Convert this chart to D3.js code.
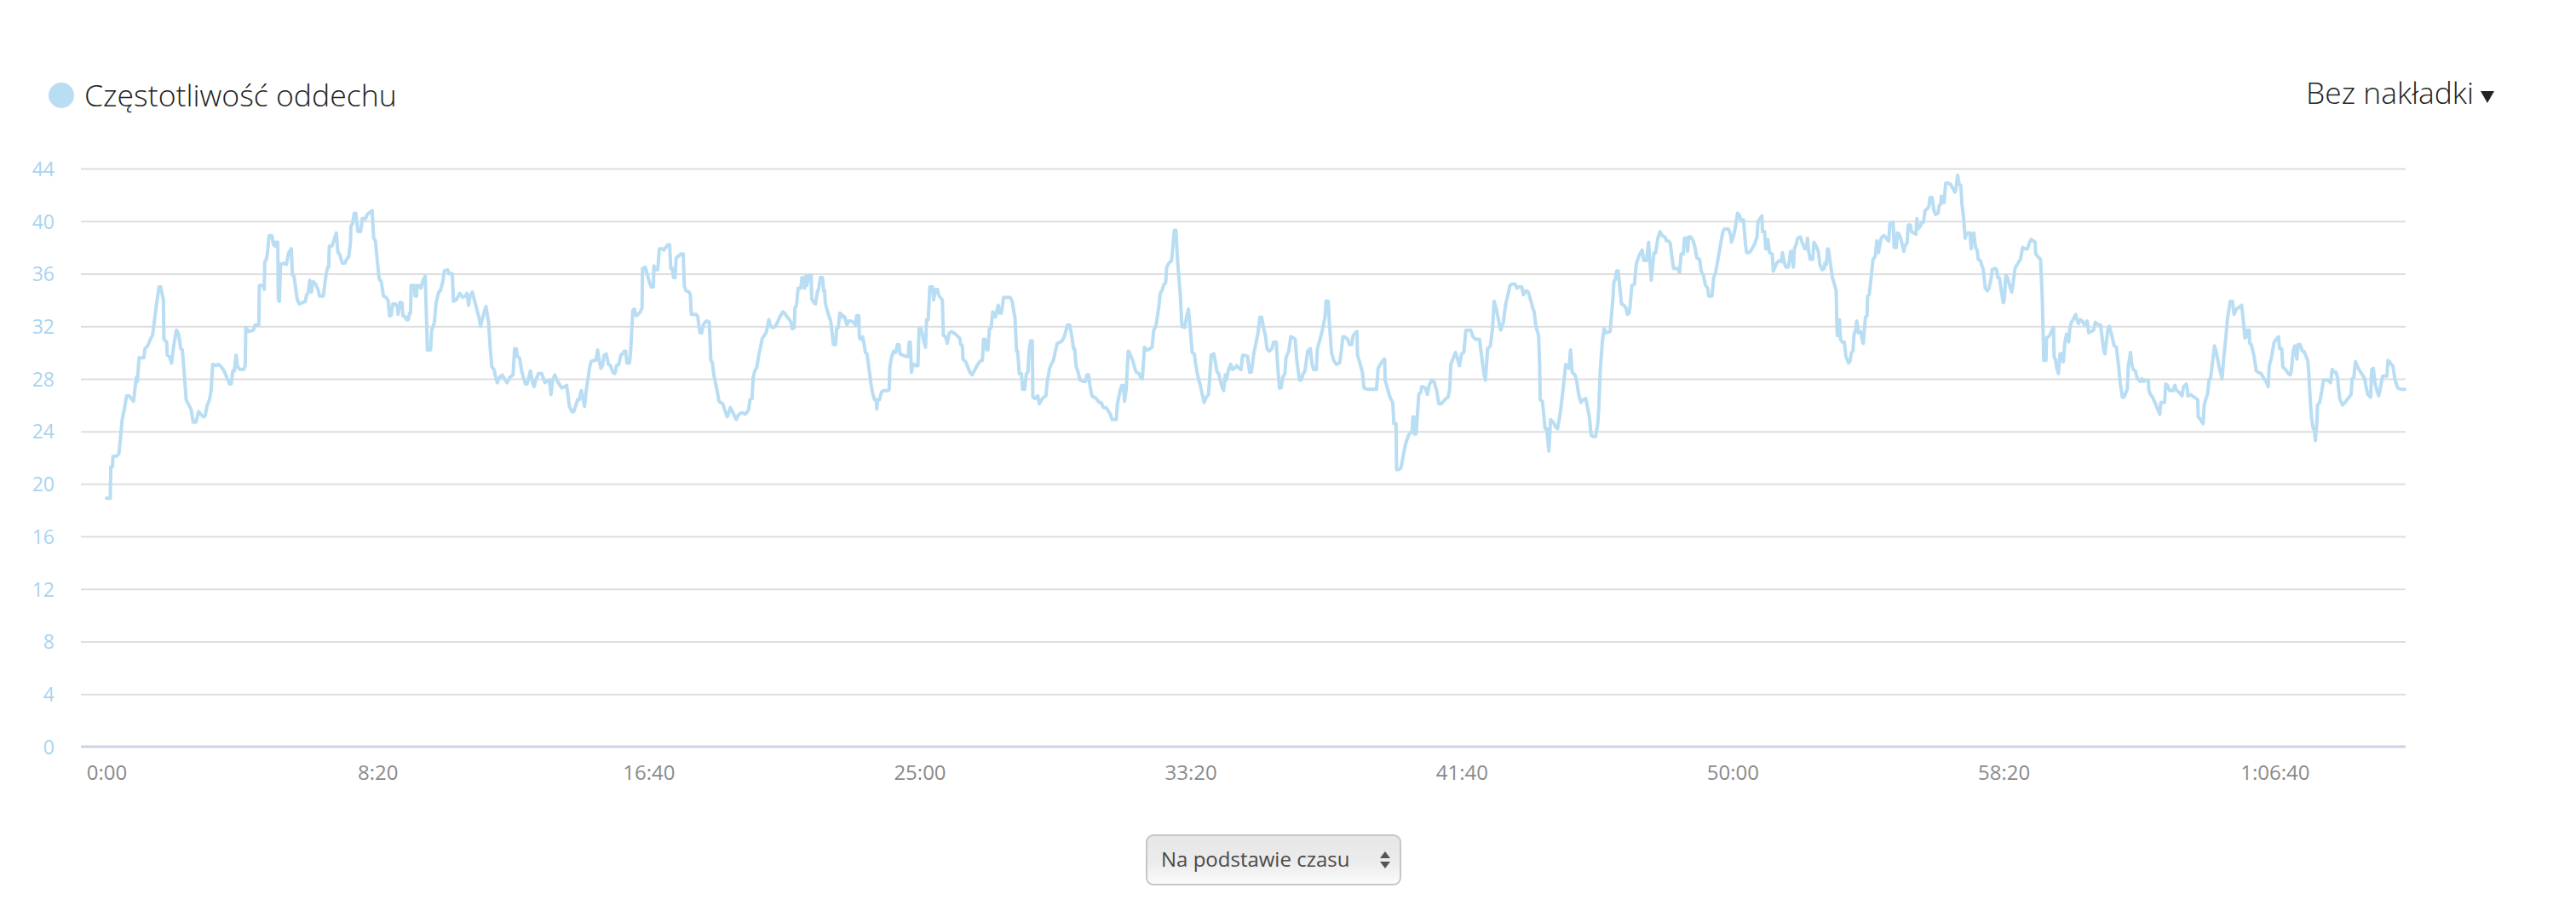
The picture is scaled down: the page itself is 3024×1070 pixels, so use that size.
<!DOCTYPE html>
<html><head><meta charset="utf-8">
<script src="https://cdn.jsdelivr.net/npm/d3@7"></script>
<style>
html,body{margin:0;padding:0;background:#fff;}
svg{display:block;font-family:"Open Sans",sans-serif;}
</style></head><body>
<svg id="chart" width="3024" height="1070"></svg>
<script>
const seriesName = "Częstotliwość oddechu";
const overlayLabel = "Bez nakładki";
const selectLabel = "Na podstawie czasu";
const yTicks = [0, 4, 8, 12, 16, 20, 24, 28, 32, 36, 40, 44];
const xTicks = [0, 500, 1000, 1500, 2000, 2500, 3000, 3500, 4000];
const timeDomain = [0, 4240];

// [seconds, breaths per minute]
const part1 = [[0,18.9],[7,18.9],[8,21.3],[11,21.3],[12,22.1],[18,22.1],[23,22.3],[29,24.9],[33,25.7],[37,26.7],[42,26.7],[50,26.3],[55,28.1],[57,27.8],[60,29.6],[69,29.6],[71,30.3],[76,30.5],[82,31.1],[85,31.3],[92,33.6],[97,35.0],[100,35.0],[105,34.0],[106,31.0],[111,30.8],[112,29.8],[116,29.7],[120,29.2],[124,30.5],[129,31.7],[133,31.4],[137,30.3],[140,30.2],[144,28.1],[147,26.4],[152,26.0],[156,25.7],[160,24.7],[165,24.7],[170,25.5],[174,25.3],[179,25.1],[182,25.2],[186,26.0],[190,26.4],[193,27.1],[196,29.1],[202,29.0],[207,29.1],[212,28.9],[217,28.6],[223,28.0],[227,27.6],[230,27.6],[233,28.6],[236,28.6],[239,29.8],[242,28.9],[247,28.7],[253,28.7],[256,29.0],[257,31.9],[262,31.6],[271,31.7],[274,32.1],[281,32.1],[282,35.1],[290,35.1],[291,34.8],[292,36.9],[295,37.1],[297,37.6],[300,38.9],[305,38.9],[308,38.2],[311,38.1],[312,38.4],[316,38.4],[317,34.0],[319,33.9],[321,36.7],[327,36.8],[332,36.7],[336,37.6],[341,37.9],[343,35.9],[346,35.8],[352,34.0],[356,33.7],[362,33.8],[367,33.9],[369,34.4],[372,34.5],[375,35.5],[378,34.6],[381,35.4],[386,35.2],[391,34.7],[393,34.3],[400,34.3],[405,35.9],[408,36.5],[410,36.5],[411,38.1],[416,38.1],[424,39.1],[427,37.6],[430,37.5],[435,36.8],[440,36.8],[443,37.1],[447,37.3],[450,38.3],[451,39.6],[454,39.8],[457,40.6],[460,40.6],[464,39.2],[469,39.2],[472,40.2],[478,40.2],[481,40.5],[490,40.8],[493,38.7],[496,38.5],[503,35.6],[507,35.4],[511,34.3],[516,34.2],[520,33.9],[522,32.8],[525,32.8],[528,33.7],[533,33.7],[537,33.4],[538,32.9],[541,33.8],[545,33.8],[547,32.8],[552,32.7],[553,32.5],[557,32.5],[559,33.0],[561,33.0],[562,35.1],[568,35.1],[569,34.3],[572,34.3],[573,35.1],[577,35.1],[580,34.9],[584,35.5],[588,35.8],[591,31.7],[592,30.2],[598,30.2],[600,31.7],[605,32.3],[608,33.8],[613,34.6],[616,34.7],[621,35.5],[623,36.2],[629,36.3],[632,36.0],[638,36.0],[640,33.9],[645,34.0]];
const part2 = [[652,34.5],[657,34.2],[662,34.3],[665,34.5],[668,33.6],[671,34.3],[675,34.6],[678,34.1],[683,33.3],[687,32.7],[690,32.0],[693,32.5],[697,33.1],[700,33.5],[705,32.3],[708,30.3],[711,28.9],[715,28.7],[718,28.1],[721,27.7],[725,28.1],[730,28.3],[734,28.0],[739,27.7],[744,28.1],[750,28.3],[753,30.3],[756,30.3],[758,29.7],[762,29.6],[766,28.6],[769,28.1],[773,27.6],[776,27.6],[779,28.1],[782,28.6],[786,27.7],[789,27.4],[792,27.9],[797,28.4],[803,28.4],[807,27.9],[809,27.7],[812,27.8],[817,27.9],[820,26.8],[823,27.9],[827,28.3],[831,27.9],[835,27.6],[840,27.3],[845,27.4],[849,27.5],[851,26.9],[854,25.9],[859,25.5],[862,25.5],[866,26.0],[869,26.4],[872,26.4],[876,27.1],[879,26.5],[882,25.9],[885,27.1],[888,27.9],[891,28.8],[894,29.3],[899,29.4],[903,29.4],[906,30.2],[909,29.4],[912,28.8],[915,29.0],[918,29.8],[922,29.9],[926,29.1],[930,29.0],[934,28.5],[938,28.4],[941,29.0],[945,29.1],[949,29.8],[952,29.9],[955,30.1],[958,30.1],[960,29.2],[965,29.2],[967,30.1],[971,33.2],[974,33.3],[977,32.8],[981,32.9],[985,33.1],[988,33.4],[989,36.4],[994,36.5],[998,35.9],[1002,35.3],[1005,35.0],[1009,35.0],[1010,36.6],[1014,36.3],[1017,36.3],[1020,37.9],[1026,37.9],[1028,37.8],[1032,38.0],[1035,38.2],[1039,38.2],[1041,36.4],[1044,36.4],[1046,35.7],[1049,35.7],[1051,37.2],[1054,37.3],[1060,37.5],[1064,37.5],[1066,35.1],[1069,34.7],[1075,34.6],[1077,34.4],[1079,32.9],[1084,32.9],[1088,32.9],[1091,32.7],[1093,32.0],[1095,31.5],[1098,31.5],[1101,32.1],[1104,32.3],[1108,32.4],[1112,32.3],[1113,31.4],[1115,29.4],[1118,29.2],[1120,28.4],[1124,27.6],[1127,27.0],[1130,26.3],[1133,26.2],[1137,26.1],[1140,25.7],[1145,25.1],[1148,25.4],[1151,25.8],[1155,25.5],[1158,25.2],[1162,24.9],[1165,25.2],[1170,25.4],[1174,25.4],[1178,25.3],[1181,25.4],[1185,25.7],[1187,26.4],[1191,26.5],[1193,28.1],[1196,28.6],[1200,28.9],[1203,29.7],[1206,30.3],[1210,31.1],[1217,31.5],[1222,32.5],[1225,32.0],[1230,31.9],[1234,32.0],[1238,32.3],[1242,32.7],[1248,33.1],[1251,33.0],[1256,32.7],[1260,32.5],[1263,32.3],[1265,31.8],[1269,31.9],[1270,33.4],[1273,33.6],[1276,34.9],[1281,34.9],[1283,35.7],[1286,35.6],[1288,34.9],[1290,35.8],[1292,35.1],[1296,35.9],[1300,35.9],[1301,34.1],[1305,33.8],[1308,33.7],[1311,34.5],[1314,34.9],[1317,35.7],[1321,35.7],[1323,34.7],[1325,34.7],[1326,33.8],[1331,33.0],[1336,32.4],[1339,31.4],[1341,30.6],[1345,30.6],[1347,31.8],[1350,31.9],[1353,33.0],[1356,32.9],[1358,32.7]];
const part3 = [[1359,32.8],[1362,32.7],[1366,32.1],[1369,32.4],[1373,32.4],[1378,32.3],[1382,32.1],[1384,32.8],[1388,32.8],[1389,31.1],[1392,31.0],[1395,31.2],[1397,30.8],[1400,30.0],[1403,29.9],[1408,28.4],[1411,27.4],[1414,26.8],[1417,26.4],[1420,26.4],[1421,25.7],[1423,26.4],[1426,26.4],[1430,27.0],[1434,27.1],[1438,27.1],[1442,27.1],[1444,27.2],[1445,28.8],[1448,29.6],[1452,30.1],[1456,30.0],[1459,30.6],[1462,30.6],[1464,29.9],[1469,29.8],[1475,29.7],[1479,29.7],[1481,30.8],[1483,30.8],[1485,28.5],[1488,29.1],[1491,29.1],[1493,29.0],[1497,29.0],[1499,31.8],[1503,31.8],[1507,31.0],[1511,30.4],[1513,32.5],[1516,32.5],[1519,35.0],[1524,35.0],[1526,34.0],[1529,34.8],[1533,34.8],[1535,34.4],[1538,34.2],[1542,34.0],[1544,31.3],[1548,31.2],[1551,30.7],[1555,31.5],[1559,31.6],[1566,31.4],[1569,31.3],[1574,31.1],[1576,30.6],[1579,30.5],[1580,29.5],[1585,29.3],[1588,29.0],[1594,28.4],[1597,28.3],[1601,28.6],[1606,29.0],[1611,29.3],[1614,29.4],[1616,29.4],[1618,31.0],[1621,31.0],[1624,30.2],[1626,30.2],[1629,31.8],[1632,31.9],[1635,33.1],[1638,33.0],[1640,32.7],[1642,33.0],[1645,33.6],[1648,33.0],[1651,33.0],[1655,34.2],[1660,34.2],[1667,34.2],[1671,33.9],[1674,33.1],[1676,32.7],[1679,30.1],[1681,30.1],[1684,28.4],[1688,28.4],[1690,27.2],[1694,27.2],[1697,28.4],[1700,28.5],[1702,30.1],[1705,30.9],[1708,30.9],[1709,26.6],[1713,26.5],[1718,26.7],[1721,26.1],[1725,26.4],[1729,26.6],[1733,26.7],[1736,27.9],[1740,28.8],[1743,29.1],[1747,29.4],[1750,30.0],[1754,30.7],[1760,30.8],[1763,30.9],[1767,31.2],[1771,31.8],[1773,32.1],[1777,32.1],[1781,31.2],[1784,30.3],[1786,30.3],[1789,28.9],[1792,28.6],[1796,27.9],[1802,27.8],[1806,27.8],[1809,28.3],[1812,28.3],[1815,27.3],[1818,26.7],[1822,26.6],[1826,26.5],[1831,26.2],[1835,26.2],[1838,25.9],[1840,25.8],[1844,25.8],[1849,25.5],[1852,25.3],[1855,24.9],[1860,24.9],[1863,24.9],[1865,26.1],[1870,27.1],[1873,27.5],[1876,27.5],[1878,26.3],[1881,27.1],[1885,30.1],[1886,30.1],[1889,29.8],[1894,29.3],[1897,28.8],[1900,28.5],[1905,28.4],[1908,28.1],[1911,28.0],[1915,30.4],[1918,30.2],[1921,30.2],[1925,30.3],[1929,30.4],[1932,31.7],[1936,32.0],[1939,32.8],[1942,33.7],[1944,34.5],[1947,34.7],[1951,35.2],[1954,35.3],[1956,36.5],[1960,36.8],[1965,37.0],[1967,37.9],[1970,39.3],[1973,39.3],[1976,37.0],[1978,35.9],[1981,34.4],[1984,32.0],[1989,31.9],[1993,32.8],[1996,33.3],[1999,32.0],[2003,30.0],[2007,29.9],[2009,29.2],[2012,28.5],[2015,27.9],[2018,27.5],[2020,27.1],[2025,26.2],[2029,26.6],[2033,26.8],[2035,27.9],[2038,29.8],[2043,29.9],[2046,29.2],[2049,28.5],[2052,28.4],[2054,28.0],[2058,27.4],[2061,27.1],[2064,28.3]];
const part4 = [[2066,27.9],[2070,28.7],[2074,29.1],[2077,28.7],[2081,28.8],[2085,29.0],[2089,28.8],[2093,28.7],[2096,29.8],[2099,29.8],[2105,29.7],[2109,28.5],[2112,28.5],[2117,30.0],[2121,30.8],[2124,31.4],[2128,32.7],[2131,32.7],[2135,31.8],[2138,31.3],[2141,30.3],[2145,30.1],[2150,30.3],[2153,30.8],[2158,30.8],[2161,28.8],[2164,27.3],[2167,27.3],[2170,28.1],[2174,28.4],[2176,29.6],[2181,30.1],[2185,31.2],[2190,31.1],[2193,31.0],[2196,29.4],[2201,27.9],[2204,27.9],[2208,28.4],[2211,28.6],[2216,30.1],[2221,30.3],[2224,29.1],[2227,28.7],[2232,28.7],[2234,30.3],[2238,30.9],[2242,31.5],[2248,32.7],[2250,33.9],[2254,33.9],[2256,32.3],[2260,30.0],[2264,29.4],[2269,29.1],[2275,29.2],[2278,30.1],[2281,31.2],[2284,31.2],[2290,31.0],[2293,30.6],[2297,30.6],[2300,31.3],[2304,31.5],[2307,31.6],[2308,29.8],[2313,29.1],[2317,28.5],[2320,27.3],[2326,27.2],[2335,27.2],[2343,27.2],[2346,28.8],[2350,29.1],[2355,29.4],[2358,29.5],[2359,27.9],[2363,27.3],[2367,26.7],[2370,26.4],[2373,26.2],[2375,24.6],[2379,24.6],[2380,21.1],[2384,21.1],[2388,21.2],[2393,22.3],[2397,23.1],[2402,23.7],[2406,23.9],[2409,24.1],[2410,25.1],[2412,25.1],[2413,23.8],[2416,23.8],[2418,25.0],[2421,26.8],[2425,27.0],[2426,27.4],[2429,27.4],[2433,27.3],[2437,26.8],[2440,27.5],[2445,27.9],[2449,27.8],[2454,27.1],[2458,26.1],[2462,26.1],[2467,26.3],[2471,26.5],[2475,26.6],[2478,27.2],[2480,29.1],[2483,29.4],[2489,30.0],[2492,29.6],[2496,29.0],[2500,29.9],[2504,30.0],[2508,31.7],[2513,31.7],[2517,31.7],[2521,31.2],[2526,31.0],[2533,31.0],[2537,29.7],[2541,28.4],[2544,27.9],[2548,30.3],[2553,30.5],[2557,31.8],[2560,33.9],[2564,33.3],[2568,32.5],[2572,31.7],[2577,32.3],[2581,33.6],[2586,34.5],[2589,35.1],[2593,35.2],[2599,35.2],[2602,34.9],[2606,35.0],[2611,35.0],[2614,34.4],[2619,34.7],[2623,34.6],[2628,33.9],[2631,33.4],[2634,33.1],[2637,32.0],[2642,31.3],[2644,29.0],[2645,26.4],[2649,26.3],[2652,25.1],[2654,24.2],[2657,24.2],[2661,22.5],[2664,24.9],[2669,24.7],[2674,24.3],[2677,24.2],[2680,24.9],[2683,25.7],[2688,27.5],[2692,29.1],[2695,28.9],[2698,28.8],[2701,30.2],[2704,28.5],[2709,28.3],[2712,27.9],[2716,26.8],[2720,26.2],[2724,26.4],[2729,26.5],[2732,25.9],[2736,25.0],[2739,23.7],[2743,23.6],[2747,23.6],[2751,24.5],[2753,25.7],[2756,28.8],[2760,31.0],[2763,31.8],[2766,31.5]];
const part5 = [[2774,31.6],[2777,33.1],[2779,34.0],[2781,35.4],[2784,35.6],[2786,36.2],[2789,36.2],[2791,35.3],[2795,33.7],[2799,33.6],[2803,33.4],[2806,32.9],[2809,33.0],[2811,33.6],[2814,35.1],[2819,35.2],[2822,36.7],[2825,37.1],[2829,37.5],[2833,37.8],[2836,37.0],[2841,37.0],[2845,38.4],[2847,37.1],[2850,35.5],[2852,36.4],[2855,37.6],[2858,37.6],[2862,38.7],[2866,39.2],[2870,38.9],[2875,38.8],[2878,38.5],[2882,38.5],[2885,38.3],[2888,37.3],[2891,36.4],[2895,36.4],[2899,36.4],[2902,36.1],[2905,37.5],[2909,37.5],[2911,38.7],[2915,38.7],[2917,37.7],[2919,38.8],[2923,38.8],[2927,38.5],[2930,38.1],[2934,37.2],[2939,37.1],[2942,36.2],[2946,35.9],[2950,35.1],[2954,34.9],[2956,34.3],[2962,34.3],[2965,35.7],[2968,36.0],[2973,37.1],[2978,38.3],[2982,39.2],[2985,39.4],[2992,39.4],[2996,39.0],[2998,38.4],[3002,38.9],[3005,39.5],[3009,40.6],[3012,40.5],[3016,40.0],[3020,40.1],[3024,38.1],[3026,37.6],[3030,37.6],[3033,37.7],[3037,38.0],[3041,38.3],[3045,38.8],[3047,40.0],[3051,40.2],[3054,40.4],[3055,39.2],[3059,39.2],[3061,37.9],[3064,37.9],[3065,38.6],[3068,37.6],[3073,37.5],[3075,36.2],[3080,36.7],[3083,36.9],[3087,37.0],[3090,36.9],[3092,37.6],[3095,36.9],[3098,36.5],[3103,36.5],[3107,37.7],[3109,37.7],[3112,36.5],[3114,37.9],[3117,38.2],[3120,38.7],[3125,38.8],[3128,38.4],[3133,37.9],[3136,37.9],[3138,38.7],[3140,37.8],[3143,37.1],[3148,37.1],[3150,38.4],[3154,38.1],[3158,37.7],[3161,36.7],[3165,36.3],[3169,36.4],[3170,36.8],[3173,36.7],[3175,37.9],[3177,37.8],[3181,36.6],[3184,35.7],[3187,35.3],[3191,34.7],[3192,32.7],[3193,31.3],[3196,31.3],[3197,32.5],[3199,31.0],[3202,30.8],[3206,30.8],[3209,29.7],[3214,29.2],[3217,29.4],[3219,30.0],[3222,30.1],[3224,31.4],[3227,31.7],[3229,32.4],[3232,31.5],[3236,31.6],[3239,31.0],[3241,30.7],[3245,32.7],[3248,32.8],[3249,34.3],[3252,34.4],[3256,35.9],[3259,37.1],[3263,37.3],[3266,38.5],[3269,37.6],[3271,38.1],[3274,38.7],[3279,38.9],[3282,38.8],[3285,38.6],[3288,38.5],[3290,39.8],[3296,39.9],[3298,38.0],[3302,38.0],[3304,39.1],[3307,39.0],[3310,38.7],[3314,38.0],[3316,37.7],[3318,38.1],[3322,38.4],[3324,39.7],[3328,39.7],[3330,39.2],[3334,39.1],[3338,39.0],[3340,40.2],[3342,39.4],[3346,39.6],[3349,39.9],[3352,39.9],[3355,40.8],[3358,40.9],[3362,41.1],[3364,41.8],[3368,41.8],[3371,40.9],[3374,40.5],[3379,40.6],[3381,41.2],[3384,41.3],[3385,41.9],[3390,41.4],[3393,42.9],[3397,42.9],[3402,42.8],[3405,42.6],[3410,42.2],[3412,42.4],[3415,43.5],[3418,42.8],[3421,42.7],[3423,41.3],[3426,40.3],[3429,38.7],[3431,39.0],[3434,39.1],[3438,39.1],[3440,37.9],[3442,39.0],[3445,39.1],[3448,38.0],[3451,37.8],[3453,37.1],[3457,37.0],[3460,36.6],[3462,36.4],[3464,35.7],[3466,34.9],[3470,34.7],[3473,34.9],[3477,35.7],[3479,36.3]];
const part6 = [[3484,36.4],[3487,36.3],[3489,35.7],[3492,35.7],[3495,34.9],[3499,33.8],[3501,33.9],[3504,35.9],[3507,35.7],[3511,35.1],[3515,34.6],[3517,35.1],[3521,36.4],[3525,36.7],[3528,36.9],[3531,37.1],[3535,38.0],[3539,37.9],[3544,37.9],[3548,38.4],[3551,38.6],[3555,38.5],[3558,38.4],[3559,37.5],[3563,37.3],[3568,37.1],[3571,34.4],[3573,31.2],[3574,29.4],[3578,29.4],[3579,31.1],[3582,31.2],[3585,31.3],[3589,31.7],[3592,31.9],[3593,29.7],[3596,29.4],[3598,28.8],[3601,28.4],[3604,29.9],[3607,29.9],[3610,29.3],[3613,30.8],[3616,31.4],[3618,31.2],[3620,30.8],[3622,31.8],[3625,32.3],[3628,32.5],[3633,32.9],[3635,32.5],[3638,32.2],[3641,32.5],[3645,32.4],[3649,32.1],[3654,32.4],[3657,31.5],[3661,31.6],[3666,31.7],[3669,32.3],[3672,32.2],[3676,32.1],[3679,32.1],[3682,31.0],[3685,30.1],[3687,29.9],[3689,30.7],[3693,31.9],[3695,32.0],[3700,31.2],[3704,30.5],[3708,30.4],[3712,29.0],[3715,27.7],[3719,26.6],[3722,26.6],[3726,27.0],[3728,27.2],[3730,29.0],[3734,30.0],[3736,29.2],[3739,28.7],[3743,28.6],[3746,28.1],[3749,27.9],[3752,27.8],[3755,28.0],[3758,27.8],[3761,27.9],[3767,27.9],[3768,27.1],[3771,26.8],[3775,26.6],[3778,26.3],[3782,25.9],[3786,25.5],[3788,25.3],[3790,26.2],[3794,26.2],[3797,26.2],[3799,27.6],[3802,27.5],[3806,27.1],[3812,27.1],[3816,27.5],[3819,27.1],[3823,27.0],[3829,26.7],[3832,27.4],[3837,27.6],[3839,27.2],[3840,26.7],[3845,26.8],[3848,26.7],[3855,26.5],[3858,26.4],[3859,25.1],[3863,24.9],[3866,24.7],[3868,24.6],[3870,26.0],[3874,26.6],[3876,26.8],[3879,27.9],[3882,28.1],[3884,28.8],[3889,30.5],[3892,30.1],[3897,29.0],[3900,28.5],[3903,28.0],[3906,29.6],[3910,31.2],[3913,32.6],[3918,33.9],[3922,33.9],[3925,32.9],[3929,33.3],[3933,33.4],[3939,33.6],[3942,32.5],[3945,31.1],[3948,31.2],[3950,31.7],[3953,31.7],[3954,30.7],[3957,30.6],[3962,29.7],[3966,28.6],[3970,28.5],[3975,28.4],[3979,28.1],[3984,27.8],[3988,27.4],[3990,29.0],[3994,29.6],[3996,30.1],[3999,30.8],[4003,31.0],[4007,31.2],[4009,30.3],[4013,30.3],[4015,28.9],[4020,28.7],[4025,28.4],[4029,28.3],[4031,28.7],[4034,30.1],[4037,30.5],[4041,29.5],[4043,30.6],[4047,30.6],[4051,30.1],[4054,30.1],[4057,29.8],[4061,29.4],[4063,28.4],[4065,26.8],[4068,25.0],[4071,24.2],[4073,24.2],[4075,23.3],[4078,24.8],[4079,26.0],[4083,26.2],[4087,27.1],[4090,27.9],[4095,27.9],[4099,27.9],[4103,27.7],[4106,28.7],[4110,28.5],[4113,28.5],[4116,28.1],[4118,27.2],[4120,26.5],[4125,26.0],[4130,26.2],[4135,26.5],[4141,26.8],[4143,28.0],[4146,28.1],[4149,29.3],[4153,28.9],[4157,28.6],[4162,28.3],[4166,28.0],[4169,27.3],[4172,26.8],[4177,26.6],[4179,28.7],[4182,28.8],[4185,27.7],[4188,27.2],[4192,26.7],[4195,27.3],[4199,28.2],[4204,28.2],[4207,28.2],[4209,29.4],[4212,29.3],[4215,29.1],[4218,29.0],[4222,27.9],[4227,27.3],[4233,27.2],[4240,27.2]];

const series = [].concat(part1, part2, part3, part4, part5, part6);

const LINE_COLOR = "#b9ddf3";
const svg = d3.select("#chart");
const plotLeft = 95, plotRight = 2824;
const x = d3.scaleLinear().domain(timeDomain).range([125, 2823]);
const y = d3.scaleLinear().domain([0, 44]).range([877, 198]);

function fmtTime(s) {
  const h = Math.floor(s / 3600), m = Math.floor((s % 3600) / 60), sec = s % 60;
  const ss = String(sec).padStart(2, "0");
  return h > 0 ? `${h}:${String(m).padStart(2, "0")}:${ss}` : `${m}:${ss}`;
}

// horizontal grid
const grid = svg.append("g").attr("transform", `translate(${plotLeft},0)`)
  .call(d3.axisRight(y).tickValues(yTicks.filter(d => d > 0)).tickSize(plotRight - plotLeft).tickFormat(""));
grid.select(".domain").remove();
grid.selectAll("line").attr("stroke", "#dedede").attr("stroke-width", 2);

// y labels
const yAxis = svg.append("g").attr("transform", "translate(64,0)")
  .call(d3.axisLeft(y).tickValues(yTicks).tickSize(0).tickPadding(0));
yAxis.select(".domain").remove();
yAxis.selectAll("text").attr("fill", "#a9d4ef").style("font-size", "23px")
  .style("font-family", '"Open Sans", sans-serif').attr("dy", "0.36em");

// x axis
const xAxis = svg.append("g").attr("transform", "translate(0,877)")
  .call(d3.axisBottom(x).tickValues(xTicks).tickFormat(fmtTime).tickSize(0).tickPadding(22));
xAxis.select(".domain").remove();
xAxis.selectAll("text").attr("fill", "#8a8a8a").style("font-size", "24px")
  .style("font-family", '"Open Sans", sans-serif');
svg.append("line").attr("x1", plotLeft).attr("x2", plotRight).attr("y1", 877).attr("y2", 877)
  .attr("stroke", "#ccd3e6").attr("stroke-width", 3);

// series line
svg.append("path").datum(series)
  .attr("fill", "none").attr("stroke", LINE_COLOR).attr("stroke-width", 4)
  .attr("stroke-linejoin", "round").attr("stroke-linecap", "round")
  .attr("d", d3.line().x(d => x(d[0])).y(d => y(d[1])));

// legend
svg.append("circle").attr("cx", 72).attr("cy", 112).attr("r", 15).attr("fill", LINE_COLOR);
function fitText(sel, target) {
  const len = sel.node().getComputedTextLength();
  const fs = parseFloat(sel.style("font-size"));
  sel.style("font-size", (fs * target / len) + "px");
}
const title = svg.append("text").attr("x", 99).attr("y", 125).text(seriesName)
  .attr("fill", "#222").style("font-size", "35px").style("font-weight", 300);
fitText(title, 367);

const overlay = svg.append("text").attr("x", 2904).attr("y", 122).attr("text-anchor", "end")
  .text(overlayLabel).attr("fill", "#222").style("font-size", "34px").style("font-weight", 300);
fitText(overlay, 197);
svg.append("path").attr("d", "M2912,107 L2928,107 L2920,121 Z").attr("fill", "#222");

// select box
const defs = svg.append("defs");
const grad = defs.append("linearGradient").attr("id", "selGrad").attr("x1", 0).attr("y1", 0).attr("x2", 0).attr("y2", 1);
grad.append("stop").attr("offset", "0%").attr("stop-color", "#e6e6e6");
grad.append("stop").attr("offset", "55%").attr("stop-color", "#ececec");
grad.append("stop").attr("offset", "100%").attr("stop-color", "#fbfbfb");
svg.append("rect").attr("x", 1346).attr("y", 981).attr("width", 298).attr("height", 58)
  .attr("rx", 8).attr("fill", "url(#selGrad)").attr("stroke", "#c6c6c6").attr("stroke-width", 2);
svg.append("text").attr("x", 1363).attr("y", 1018).text(selectLabel)
  .attr("fill", "#4a4a4a").style("font-size", "24px");
svg.append("path").attr("d", "M1620,1008 L1632,1008 L1626,1000 Z M1620,1012 L1632,1012 L1626,1020 Z").attr("fill", "#555");
</script>
</body></html>
